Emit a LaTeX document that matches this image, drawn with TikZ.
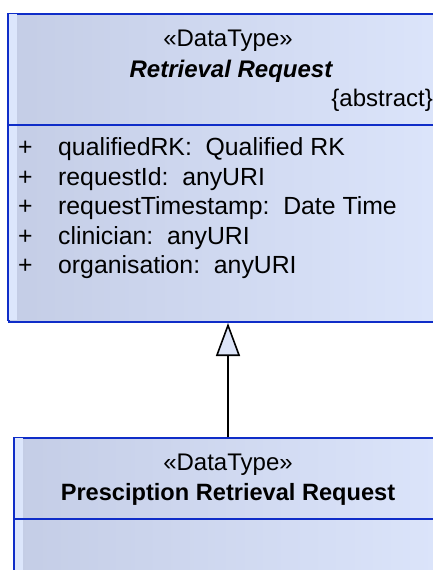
\documentclass[tikz,border=0pt]{standalone}
\usepackage{fontspec}
\setmainfont{Liberation Sans}
\usetikzlibrary{arrows.meta}
\definecolor{umlblue}{RGB}{15,45,200}
\definecolor{gradL}{RGB}{196,205,230}
\definecolor{gradR}{RGB}{220,229,251}
\definecolor{strip}{RGB}{220,230,252}
\definecolor{trifill}{RGB}{220,228,248}
\tikzset{
  umlbox/.style={draw=umlblue, line width=2pt, left color=gradL, right color=gradR, anchor=north west, inner sep=0pt, minimum width=440pt},
  divider/.style={draw=umlblue, line width=1.8pt},
  txt/.style={inner sep=0pt, font=\fontsize{24}{30}\selectfont},
  attr/.style={inner sep=0pt, font=\fontsize{24.8}{30}\selectfont},
  gen/.style={line width=1.6pt, -{Triangle[length=33pt, width=24pt, fill=trifill, line width=1.6pt]}}
}
\begin{document}
\begin{tikzpicture}[x=1pt,y=-1pt]
\useasboundingbox (0,0) rectangle (433,570);
\clip (0,0) rectangle (433,570);
\fill[white] (0,0) rectangle (433,570);
% top class
\node[umlbox, minimum height=308pt] (rr) at (8,13) {};
\fill[strip] (9,14) rectangle (17,320);
\draw[umlblue, line width=2pt] (8,13) -- (8,321);
\draw[divider] (8,125) -- (445,125);
\node[txt, anchor=base] (rrst) at (228,46.5) {«DataType»};
\node[txt, anchor=base, font=\fontsize{24}{30}\selectfont\bfseries\itshape] (rrname) at (231,77) {Retrieval Request};
\node[txt, anchor=base east] (rrabs) at (433,106) {\{abstract\}};
\foreach \t [count=\i from 0] in {{qualifiedRK:\ \ Qualified RK},{requestId:\ \ anyURI},{requestTimestamp:\ \ Date Time},{clinician:\ \ anyURI},{organisation:\ \ anyURI}}{
  \node[attr, anchor=base west] (p\i) at (18,155.5+29.6*\i) {+};
  \node[attr, anchor=base west] (a\i) at (58,155.5+29.6*\i) {\t};
}
% bottom class
\node[umlbox, minimum height=150pt] (pr) at (14,437) {};
\fill[strip] (15,438) rectangle (23,572);
\draw[umlblue, line width=2pt] (14,437) -- (14,572);
\draw[divider] (14,519) -- (445,519);
\node[txt, anchor=base] (prst) at (228,470.5) {«DataType»};
\node[txt, anchor=base, font=\fontsize{23.6}{30}\selectfont\bfseries] (prname) at (228,500) {Presciption Retrieval Request};
% generalization
\draw[gen] ([xshift=214pt]pr.north west) -- ([xshift=220pt]rr.south west);
\end{tikzpicture}
\end{document}
